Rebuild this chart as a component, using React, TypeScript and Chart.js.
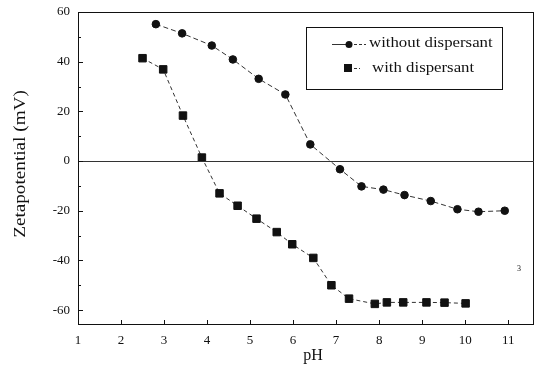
import React, { useEffect, useRef } from "react";
import { Chart, registerables } from "chart.js";

Chart.register(...registerables);

const phWithout = [2.81, 3.42, 4.11, 4.6, 5.2, 5.82, 6.4, 7.09, 7.59, 8.1, 8.59, 9.2, 9.82, 10.31, 10.92];
const zetaWithout = [55.1, 51.4, 46.5, 40.9, 33.1, 26.8, 6.7, -3.3, -10.2, -11.5, -13.7, -16.1, -19.4, -20.4, -20.0];
const phWith = [2.5, 2.98, 3.44, 3.88, 4.29, 4.71, 5.15, 5.62, 5.98, 6.47, 6.89, 7.3, 7.9, 8.18, 8.56, 9.1, 9.52, 10.01];
const zetaWith = [41.4, 36.9, 18.3, 1.4, -13.0, -18.0, -23.2, -28.6, -33.5, -39.0, -50.0, -55.4, -57.5, -56.9, -56.9, -56.9, -57.0, -57.3];
const xTicks = [1, 2, 3, 4, 5, 6, 7, 8, 9, 10, 11];
const yTicks = [-60, -40, -20, 0, 20, 40, 60];
const yMinorTicks = [-50, -30, -10, 10, 30, 50];
const seriesNames = ["without dispersant", "with dispersant"];
const xTitle = "pH";
const yTitle = "Zetapotential (mV)";

const SERIF = "'Liberation Serif', 'DejaVu Serif', serif";

const decorPlugin = {
  id: "decor",
  afterDatasetsDraw(chart: any) {
    const ctx = chart.ctx;
    const { left, right, top, bottom } = chart.chartArea;
    const xs = chart.scales.x;
    const ys = chart.scales.y;
    ctx.save();
    ctx.strokeStyle = "#111";
    ctx.lineWidth = 1;
    ctx.strokeRect(Math.round(left) + 0.5, Math.round(top) + 0.5, Math.round(right - left) - 1, Math.round(bottom - top) - 1);
    const y0 = Math.round(ys.getPixelForValue(0)) + 0.5;
    ctx.strokeStyle = "#333";
    ctx.beginPath();
    ctx.moveTo(left, y0);
    ctx.lineTo(right, y0);
    ctx.stroke();
    ctx.strokeStyle = "#111";
    ctx.beginPath();
    xTicks.forEach((v) => {
      const px = Math.round(xs.getPixelForValue(v)) + 0.5;
      ctx.moveTo(px, bottom);
      ctx.lineTo(px, bottom - 5);
    });
    yTicks.forEach((v) => {
      const py = Math.round(ys.getPixelForValue(v)) + 0.5;
      ctx.moveTo(left, py);
      ctx.lineTo(left + 5, py);
    });
    yMinorTicks.forEach((v) => {
      const py = Math.round(ys.getPixelForValue(v)) + 0.5;
      ctx.moveTo(left, py);
      ctx.lineTo(left + 3, py);
    });
    ctx.stroke();

    // legend
    ctx.strokeRect(306.5, 27.5, 196, 62);
    ctx.fillStyle = "#111";
    ctx.strokeStyle = "#333";
    ctx.beginPath();
    ctx.moveTo(332, 44.5);
    ctx.lineTo(349, 44.5);
    ctx.stroke();
    ctx.setLineDash([3, 2]);
    ctx.beginPath();
    ctx.moveTo(349, 44.5);
    ctx.lineTo(366, 44.5);
    ctx.stroke();
    ctx.setLineDash([]);
    ctx.beginPath();
    ctx.arc(349, 44.5, 3.5, 0, Math.PI * 2);
    ctx.fill();
    ctx.fillRect(344, 64, 8, 8);
    ctx.setLineDash([3, 2]);
    ctx.beginPath();
    ctx.moveTo(354, 68.5);
    ctx.lineTo(360, 68.5);
    ctx.stroke();
    ctx.setLineDash([]);

    ctx.font = `14px ${SERIF}`;
    ctx.textBaseline = "middle";
    ctx.textAlign = "left";
    const drawStretched = (t: string, x: number, y: number, sx: number) => {
      ctx.save();
      ctx.translate(x, y);
      ctx.scale(sx, 1);
      ctx.fillText(t, 0, 0);
      ctx.restore();
    };
    drawStretched(seriesNames[0], 369, 43, 1.2);
    drawStretched(seriesNames[1], 372, 68, 1.2);

    ctx.font = `16px ${SERIF}`;
    ctx.textAlign = "center";
    ctx.save();
    ctx.translate(21, 164);
    ctx.rotate(-Math.PI / 2);
    ctx.scale(1.2, 1);
    ctx.fillText(yTitle, 0, 0);
    ctx.restore();
    ctx.fillText(xTitle, 313, 356);

    ctx.font = `8px ${SERIF}`;
    ctx.fillText("3", 519, 269);
    ctx.restore();
  },
};

export default function App() {
  const ref = useRef<HTMLCanvasElement>(null);
  useEffect(() => {
    if (!ref.current) return;
    const chart = new Chart(ref.current, {
      type: "scatter",
      data: {
        datasets: [
          {
            label: seriesNames[0],
            data: phWithout.map((x, i) => ({ x, y: zetaWithout[i] })),
            showLine: true,
            borderColor: "#333",
            borderWidth: 1,
            borderDash: [5, 3],
            backgroundColor: "#111",
            pointBackgroundColor: "#111",
            pointBorderColor: "#111",
            pointStyle: "circle",
            pointRadius: 3.8,
          },
          {
            label: seriesNames[1],
            data: phWith.map((x, i) => ({ x, y: zetaWith[i] })),
            showLine: true,
            borderColor: "#333",
            borderWidth: 1,
            borderDash: [4, 3],
            backgroundColor: "#111",
            pointBackgroundColor: "#111",
            pointBorderColor: "#111",
            pointStyle: "rect",
            pointRadius: 5.3,
          },
        ],
      },
      options: {
        responsive: false,
        animation: false,
        layout: { autoPadding: false, padding: { left: 0, top: 12, right: 2, bottom: 0 } },
        plugins: { legend: { display: false }, tooltip: { enabled: false } },
        scales: {
          x: {
            type: "linear",
            min: 1,
            max: 11.6,
            grid: { display: false, drawTicks: false },
            border: { display: false },
            afterBuildTicks: (s: any) => {
              s.ticks = xTicks.map((v) => ({ value: v }));
            },
            afterFit: (s: any) => {
              s.height = 41;
              s.paddingLeft = 0;
              s.paddingRight = 0;
            },
            ticks: {
              autoSkip: false,
              maxRotation: 0,
              padding: 8,
              color: "#111",
              font: { family: SERIF, size: 13 },
            },
          },
          y: {
            type: "linear",
            min: -66,
            max: 60,
            grid: { display: false, drawTicks: false },
            border: { display: false },
            afterBuildTicks: (s: any) => {
              s.ticks = yTicks.map((v) => ({ value: v }));
            },
            afterFit: (s: any) => {
              s.width = 78;
              s.paddingTop = 0;
              s.paddingBottom = 0;
            },
            ticks: {
              padding: 8,
              color: "#111",
              font: { family: SERIF, size: 13 },
            },
          },
        },
      },
      plugins: [decorPlugin],
    });
    return () => chart.destroy();
  }, []);
  return (
    <div style={{ position: "absolute", left: 0, top: 0, width: 536, height: 366, background: "#fff" }}>
      <canvas ref={ref} width={536} height={366} />
    </div>
  );
}
